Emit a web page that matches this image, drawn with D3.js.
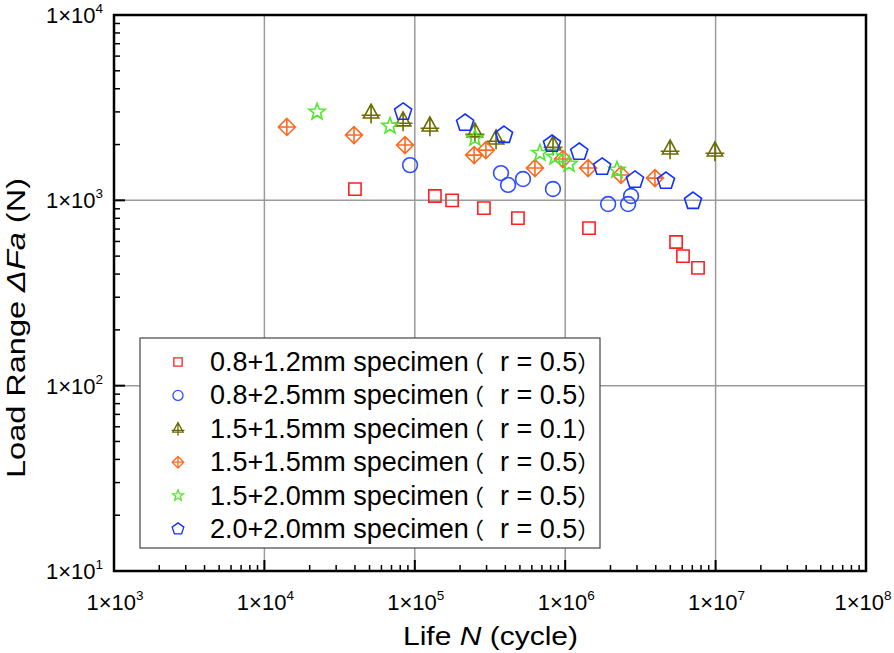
<!DOCTYPE html>
<html><head><meta charset="utf-8">
<script src="https://cdn.jsdelivr.net/npm/d3@7"></script>
<style>body{margin:0;background:#fff}svg{display:block}text{font-family:"Liberation Sans",Arial,sans-serif}
.fw{font-family:"Noto Sans CJK SC",sans-serif;font-feature-settings:"palt" 1}</style>
</head><body><svg id="c" width="894" height="653"></svg>
<script>
// ---- data (N cycles, load range N) ----
const specimenNames = ["0.8+1.2mm specimen", "0.8+2.5mm specimen", "1.5+1.5mm specimen", "1.5+1.5mm specimen", "1.5+2.0mm specimen", "2.0+2.0mm specimen"];
const stressRatios = ["r = 0.5", "r = 0.5", "r = 0.1", "r = 0.5", "r = 0.5", "r = 0.5"];
const s1N = [4.0e4, 1.36e5, 1.77e5, 2.88e5, 4.85e5, 1.44e6, 5.46e6, 6.07e6, 7.64e6];
const s1F = [1150, 1055, 1000, 908, 801, 708, 596, 500, 432];
const s2N = [9.3e4, 3.74e5, 4.17e5, 5.24e5, 8.29e5, 1.93e6, 2.62e6, 2.74e6];
const s2F = [1549, 1403, 1211, 1303, 1151, 955, 955, 1055];
const s3N = [5.12e4, 8.36e4, 1.26e5, 2.51e5, 3.47e5, 8.3e5, 4.98e6, 9.9e6];
const s3F = [2958, 2681, 2518, 2339, 2143, 1986, 1892, 1846];
const s4N = [1.41e4, 3.94e4, 8.61e4, 2.48e5, 2.97e5, 6.29e5, 9.66e5, 1.42e6, 2.35e6, 3.95e6];
const s4F = [2488, 2250, 1987, 1754, 1867, 1493, 1671, 1493, 1371, 1318];
const s5N = [2.24e4, 6.84e4, 2.51e5, 6.79e5, 8.55e5, 1.06e6, 2.21e6];
const s5F = [3000, 2518, 2167, 1799, 1713, 1571, 1459];
const s6N = [8.36e4, 2.16e5, 3.92e5, 8.17e5, 1.24e6, 1.76e6, 2.91e6, 4.68e6, 7.08e6];
const s6F = [3000, 2614, 2250, 2013, 1823, 1514, 1288, 1271, 991];
const xTickExp = [3, 4, 5, 6, 7, 8];
const yTickExp = [1, 2, 3, 4];

const colors = ["#ff2020", "#2a4dff", "#6b6b00", "#ff6a22", "#4fe82a", "#1030ff"];
const shapes = ["square", "circle", "tri", "diamond", "star", "pent"];
const series = [[s1N,s1F],[s2N,s2F],[s3N,s3F],[s4N,s4F],[s5N,s5F],[s6N,s6F]];

const svg = d3.select("#c");
const L = 114, T = 15, R = 866, B = 571;
const x = d3.scaleLog().domain([1e3, 1e8]).range([L, R]);
const y = d3.scaleLog().domain([1e1, 1e4]).range([B, T]);

// grid
const g = svg.append("g");
xTickExp.slice(1, -1).forEach(e => g.append("line").attr("x1", x(10**e)).attr("x2", x(10**e)).attr("y1", T).attr("y2", B).attr("stroke", "#9a9a9a").attr("stroke-width", 1.5));
yTickExp.slice(1, -1).forEach(e => g.append("line").attr("y1", y(10**e)).attr("y2", y(10**e)).attr("x1", L).attr("x2", R).attr("stroke", "#9a9a9a").attr("stroke-width", 1.5));

// marker paths
function markerPath(shape, s) {
  const p = d3.path();
  if (shape === "square") { p.rect(-s*0.72, -s*0.72, s*1.44, s*1.44); }
  else if (shape === "circle") { p.moveTo(s*0.85, 0); p.arc(0, 0, s*0.85, 0, 2*Math.PI); }
  else if (shape === "tri") {
    p.moveTo(0, -s); p.lineTo(-s*0.85, s*0.55); p.lineTo(s*0.85, s*0.55); p.closePath();
    p.moveTo(0, -s); p.lineTo(0, s*1.15);
    p.moveTo(-s*1.05, s*0.25); p.lineTo(s*1.05, s*0.25);
  }
  else if (shape === "diamond") {
    p.moveTo(0, -s); p.lineTo(s, 0); p.lineTo(0, s); p.lineTo(-s, 0); p.closePath();
    p.moveTo(0, -s); p.lineTo(0, s); p.moveTo(-s, 0); p.lineTo(s, 0);
  }
  else if (shape === "star") {
    for (let i = 0; i < 10; i++) {
      const r = i % 2 ? s*0.42 : s;
      const a = -Math.PI/2 + i*Math.PI/5;
      i ? p.lineTo(r*Math.cos(a), r*Math.sin(a)) : p.moveTo(r*Math.cos(a), r*Math.sin(a));
    }
    p.closePath();
  }
  else if (shape === "pent") {
    for (let i = 0; i < 5; i++) {
      const a = -Math.PI/2 + i*2*Math.PI/5;
      i ? p.lineTo(s*Math.cos(a), s*Math.sin(a)) : p.moveTo(s*Math.cos(a), s*Math.sin(a));
    }
    p.closePath();
  }
  return p.toString();
}
const sizes = {square: 8.5, circle: 8.7, tri: 9, diamond: 8.5, star: 8.5, pent: 9};

// points
series.forEach(([N, F], i) => {
  svg.append("g").selectAll("path").data(N.map((n, k) => [n, F[k]])).join("path")
    .attr("transform", d => `translate(${x(d[0])},${y(d[1])})`)
    .attr("d", markerPath(shapes[i], sizes[shapes[i]]))
    .attr("fill", "none").attr("stroke", colors[i]).attr("stroke-width", 1.6);
});

// axes frame
svg.append("rect").attr("x", L).attr("y", T).attr("width", R-L).attr("height", B-T).attr("fill", "none").attr("stroke", "#000").attr("stroke-width", 2.5);
// ticks inward (bottom & left)
const minor = [2,3,4,5,6,7,8,9];
xTickExp.forEach(e => {
  svg.append("line").attr("x1", x(10**e)).attr("x2", x(10**e)).attr("y1", B).attr("y2", B-11).attr("stroke", "#000").attr("stroke-width", 2);
  if (e < 8) minor.forEach(m => svg.append("line").attr("x1", x(m*10**e)).attr("x2", x(m*10**e)).attr("y1", B).attr("y2", B-6).attr("stroke", "#000").attr("stroke-width", 1.5));
});
yTickExp.forEach(e => {
  svg.append("line").attr("y1", y(10**e)).attr("y2", y(10**e)).attr("x1", L).attr("x2", L+11).attr("stroke", "#000").attr("stroke-width", 2);
  if (e < 4) minor.forEach(m => svg.append("line").attr("y1", y(m*10**e)).attr("y2", y(m*10**e)).attr("x1", L).attr("x2", L+6).attr("stroke", "#000").attr("stroke-width", 1.5));
});

// tick labels
function powLabel(sel, e) {
  sel.append("tspan").text("1×10");
  sel.append("tspan").attr("dy", -10).attr("font-size", 13.5).text(e);
}
xTickExp.forEach(e => {
  const t = svg.append("text").attr("x", Math.min(x(10**e) + 1, 863)).attr("y", 610).attr("text-anchor", "middle").attr("font-size", 22);
  powLabel(t, e);
});
yTickExp.forEach(e => {
  const t = svg.append("text").attr("x", 103).attr("y", y(10**e) + 8).attr("text-anchor", "end").attr("font-size", 22);
  powLabel(t, e);
});

// axis titles
const xt = svg.append("text").attr("x", 403).attr("y", 645).attr("font-size", 25)
  .attr("textLength", 175).attr("lengthAdjust", "spacingAndGlyphs");
xt.append("tspan").text("Life ");
xt.append("tspan").attr("font-style", "italic").text("N");
xt.append("tspan").text(" (cycle)");
const yt = svg.append("text").attr("transform", "translate(25,478) rotate(-90)").attr("font-size", 25)
  .attr("textLength", 300).attr("lengthAdjust", "spacingAndGlyphs");
yt.append("tspan").text("Load Range ");
yt.append("tspan").attr("font-style", "italic").text("ΔFa");
yt.append("tspan").text(" (N)");

// legend
const fs = 27;
const lg = svg.append("g");
lg.append("rect").attr("x", 140).attr("y", 338).attr("width", 460).attr("height", 210).attr("fill", "#fff").attr("stroke", "#444").attr("stroke-width", 1.2);
specimenNames.forEach((name, i) => {
  const yy = 362 + i*33.4, by = yy + 9;
  lg.append("path").attr("transform", `translate(178,${yy})`).attr("d", markerPath(shapes[i], sizes[shapes[i]]*0.68))
    .attr("fill", "none").attr("stroke", colors[i]).attr("stroke-width", 1.3);
  const t = lg.append("text").attr("y", by).attr("font-size", fs);
  t.append("tspan").attr("x", 210).text(name);
  t.append("tspan").attr("x", 472).attr("dy", 1).attr("font-size", 22.5).attr("class", "fw").text("（");
  t.append("tspan").attr("x", 500).attr("dy", -1).text(stressRatios[i]);
  t.append("tspan").attr("x", 578).attr("dy", 1).attr("font-size", 22.5).attr("class", "fw").text("）");
});
</script></body></html>
